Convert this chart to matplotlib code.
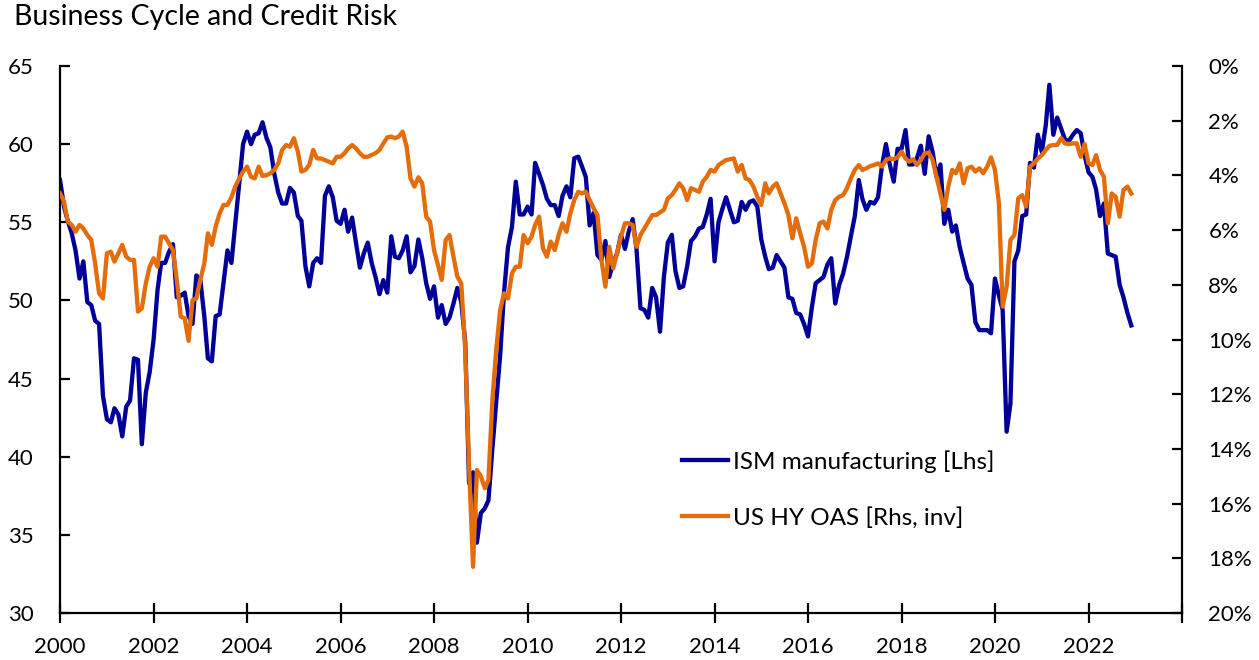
import numpy as np
import pandas as pd
import matplotlib
matplotlib.use("Agg")
import matplotlib.pyplot as plt
import matplotlib.dates as mdates
from matplotlib.ticker import FuncFormatter, MultipleLocator

plt.rcParams['font.family'] = ['Lato', 'DejaVu Sans']

# monthly observations, Jan 2000 - Dec 2022
months = pd.date_range('2000-01-01', '2022-12-01', freq='MS')

# ISM manufacturing PMI (left axis)
ism_manufacturing = [
    57.7, 56.0, 55.1, 54.3, 53.2, 51.4, 52.5, 49.9, 49.7, 48.7, 48.5, 43.9,  # 2000
    42.4, 42.2, 43.1, 42.7, 41.3, 43.2, 43.6, 46.3, 46.2, 40.8, 44.1, 45.4,  # 2001
    47.5, 50.7, 52.4, 52.4, 53.1, 53.6, 50.2, 50.3, 50.5, 49.0, 48.5, 51.6,  # 2002
    51.3, 49.0, 46.3, 46.1, 49.0, 49.1, 51.1, 53.2, 52.4, 54.9, 57.5, 60.0,  # 2003
    60.8, 60.0, 60.6, 60.7, 61.4, 60.4, 59.8, 58.1, 56.9, 56.2, 56.2, 57.2,  # 2004
    56.9, 55.4, 55.1, 52.2, 50.9, 52.4, 52.7, 52.4, 56.7, 57.3, 56.6, 55.1,  # 2005
    54.9, 55.8, 54.4, 55.3, 53.7, 52.1, 53.0, 53.7, 52.4, 51.5, 50.4, 51.3,  # 2006
    50.5, 54.1, 52.8, 52.7, 53.2, 54.1, 51.8, 52.2, 53.9, 52.7, 51.1, 50.1,  # 2007
    50.9, 48.9, 49.7, 48.5, 48.9, 49.8, 50.8, 49.9, 47.3, 38.3, 39.0, 34.5,  # 2008
    36.4, 36.7, 37.2, 40.5, 43.5, 46.5, 50.5, 53.4, 54.7, 57.6, 55.5, 55.5,  # 2009
    56.0, 55.5, 58.8, 58.1, 57.4, 56.5, 56.1, 56.1, 55.4, 56.7, 57.3, 56.6,  # 2010
    59.1, 59.2, 58.6, 57.9, 54.8, 55.6, 52.9, 52.6, 53.8, 51.5, 52.4, 53.0,  # 2011
    54.2, 53.3, 54.4, 55.2, 53.3, 49.5, 49.4, 48.9, 50.8, 50.2, 48.0, 51.5,  # 2012
    53.7, 54.2, 51.9, 50.8, 50.9, 52.2, 53.8, 54.1, 54.6, 54.7, 55.5, 56.5,  # 2013
    52.5, 55.0, 55.8, 56.6, 55.8, 55.0, 55.1, 56.3, 55.8, 56.3, 56.4, 56.0,  # 2014
    53.9, 52.8, 52.0, 52.1, 52.9, 52.5, 52.1, 50.2, 50.1, 49.2, 49.1, 48.5,  # 2015
    47.7, 49.6, 51.1, 51.3, 51.5, 52.3, 52.7, 49.8, 51.0, 51.7, 52.8, 54.1,  # 2016
    55.4, 57.7, 56.5, 55.8, 56.3, 56.2, 56.6, 58.6, 60.0, 58.7, 57.6, 59.7,  # 2017
    59.7, 60.9, 58.7, 58.7, 59.1, 59.9, 58.1, 60.5, 59.5, 57.9, 58.7, 54.9,  # 2018
    55.8, 54.4, 54.8, 53.4, 52.4, 51.4, 51.0, 48.6, 48.1, 48.1, 48.1, 47.9,  # 2019
    51.4, 50.3, 49.4, 41.6, 43.4, 52.5, 53.2, 55.4, 55.5, 58.8, 58.5, 60.6,  # 2020
    59.5, 61.2, 63.8, 60.6, 61.7, 61.0, 60.3, 60.2, 60.6, 60.9, 60.7, 59.3,  # 2021
    58.2, 57.9, 57.1, 55.4, 56.2, 53.0, 52.9, 52.8, 51.0, 50.2, 49.2, 48.4,  # 2022
]

# US high yield option-adjusted spread, % (right axis, inverted)
us_hy_oas = [
    4.66, 4.96, 5.69, 5.81, 6.06, 5.81, 5.94, 6.18, 6.36, 7.22, 8.31, 8.50,  # 2000
    6.85, 6.79, 7.15, 6.85, 6.54, 6.97, 7.09, 7.09, 8.98, 8.86, 7.95, 7.34,  # 2001
    7.03, 7.34, 6.24, 6.24, 6.48, 6.73, 7.82, 9.16, 9.23, 10.05, 8.56, 8.50,  # 2002
    7.82, 7.22, 6.12, 6.54, 5.87, 5.39, 5.08, 5.08, 4.80, 4.41, 4.11, 3.86,  # 2003
    3.68, 4.05, 4.11, 3.68, 4.02, 3.99, 3.92, 3.80, 3.56, 3.07, 2.89, 2.95,  # 2004
    2.64, 3.13, 3.86, 3.80, 3.62, 3.07, 3.38, 3.38, 3.44, 3.50, 3.56, 3.32,  # 2005
    3.32, 3.19, 3.01, 2.89, 3.01, 3.19, 3.32, 3.32, 3.25, 3.19, 3.07, 2.83,  # 2006
    2.61, 2.58, 2.64, 2.58, 2.40, 2.95, 4.11, 4.41, 4.07, 4.29, 5.51, 5.69,  # 2007
    6.73, 7.28, 7.82, 6.36, 6.18, 6.97, 7.70, 7.95, 10.38, 14.65, 18.31, 14.77,  # 2008
    15.00, 15.44, 15.14, 12.21, 10.38, 8.92, 8.31, 8.50, 7.58, 7.34, 7.34, 6.18,  # 2009
    6.48, 6.24, 5.81, 5.51, 6.67, 6.97, 6.42, 6.73, 6.18, 5.75, 6.06, 5.39,  # 2010
    4.90, 4.60, 4.66, 4.60, 4.90, 5.20, 5.45, 7.09, 8.07, 6.61, 7.40, 6.85,  # 2011
    6.24, 5.75, 5.75, 5.81, 6.61, 6.18, 5.94, 5.69, 5.45, 5.45, 5.35, 5.26,  # 2012
    4.84, 4.72, 4.53, 4.29, 4.47, 4.90, 4.47, 4.53, 4.60, 4.23, 4.05, 3.80,  # 2013
    3.86, 3.62, 3.53, 3.44, 3.41, 3.38, 3.86, 3.62, 4.11, 4.17, 4.41, 4.78,  # 2014
    5.08, 4.29, 4.66, 4.41, 4.29, 4.66, 5.02, 5.45, 6.30, 5.57, 6.12, 6.60,  # 2015
    7.34, 7.21, 6.36, 5.75, 5.69, 5.94, 5.26, 4.90, 4.78, 4.72, 4.47, 4.11,  # 2016
    3.80, 3.62, 3.80, 3.74, 3.66, 3.62, 3.56, 3.68, 3.44, 3.38, 3.41, 3.34,  # 2017
    3.13, 3.38, 3.50, 3.41, 3.62, 3.44, 3.19, 3.17, 3.44, 4.05, 4.66, 5.26,  # 2018
    4.41, 3.80, 3.92, 3.56, 4.29, 3.74, 3.68, 3.86, 3.74, 3.92, 3.68, 3.34,  # 2019
    3.80, 5.02, 8.80, 8.07, 6.36, 6.18, 4.84, 4.72, 5.14, 3.68, 3.56, 3.38,  # 2020
    3.26, 3.07, 2.92, 2.89, 2.89, 2.64, 2.83, 2.85, 2.83, 2.83, 3.32, 2.85,  # 2021
    3.56, 3.62, 3.26, 3.80, 4.05, 5.75, 4.66, 4.78, 5.51, 4.53, 4.41, 4.66,  # 2022
]

fig = plt.figure(figsize=(12.59, 6.6), dpi=100)
ax = fig.add_axes([0.0477, 0.0712, 0.8911, 0.8288])
ax2 = ax.twinx()

l1, = ax.plot(months, ism_manufacturing, color='#000099', lw=3.1,
              label='ISM manufacturing [Lhs]')
l2, = ax2.plot(months, us_hy_oas, color='#E46C0A', lw=3.1,
               label='US HY OAS [Rhs, inv]')

ax.set_xlim(pd.Timestamp('2000-01-01'), pd.Timestamp('2024-01-01'))
ax.set_ylim(30, 65)
ax.yaxis.set_major_locator(MultipleLocator(5))
ax2.set_ylim(20, 0)
ax2.yaxis.set_major_locator(MultipleLocator(2))
ax2.yaxis.set_major_formatter(FuncFormatter(lambda v, p: f'{v:.0f}%'))

ax.xaxis.set_major_locator(mdates.YearLocator(2))
ax.xaxis.set_major_formatter(FuncFormatter(
    lambda v, p: '' if mdates.num2date(v).year > 2022 else str(mdates.num2date(v).year)))

for a in (ax, ax2):
    a.spines['top'].set_visible(False)
    for s in a.spines.values():
        s.set_linewidth(1.6)
ax.spines['right'].set_visible(False)
ax2.spines['left'].set_visible(False)
ax2.spines['bottom'].set_visible(False)

ax.tick_params(axis='y', direction='in', length=7, width=1.6, labelsize=16, pad=19)
ax2.tick_params(axis='y', direction='in', length=7, width=1.6, labelsize=16, pad=19)
ax.tick_params(axis='x', direction='inout', length=14, width=1.6, labelsize=16, pad=10)

ax2.legend(handles=[l1, l2], loc='center left', bbox_to_anchor=(0.5544, 0.2258),
           frameon=False, fontsize=17.5, handlelength=1.9, handletextpad=0.18,
           labelspacing=1.42, borderaxespad=0, borderpad=0)

fig.text(14 / 1259, 1 - 17 / 660, 'Business Cycle and Credit Risk',
         ha='left', va='center', fontsize=20.5)

fig.savefig('out.png', dpi=100)
